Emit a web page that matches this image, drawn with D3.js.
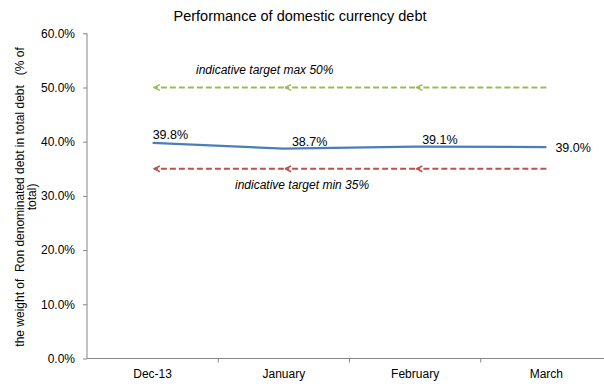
<!DOCTYPE html>
<html>
<head>
<meta charset="utf-8">
<script src="https://cdn.jsdelivr.net/npm/d3@7"></script>
<style>
  html, body { margin: 0; padding: 0; background: #fff; }
  svg { display: block; font-family: "Liberation Sans", Arial, sans-serif; }
</style>
</head>
<body>
<svg id="chart" width="604" height="384"></svg>
<script>
// Monthly share of RON-denominated debt in total debt
const categories = ["Dec-13", "January", "February", "March"];
const shareValues = [39.8, 38.7, 39.1, 39.0];
const targetMax = 50;
const targetMin = 35;
const yTicks = [0, 10, 20, 30, 40, 50, 60];

const titleText = "Performance of domestic currency debt";
const yTitleLines = ["the weight of  Ron denominated debt in total debt   (% of", "total)"];
const maxLabel = "indicative target max 50%";
const minLabel = "indicative target min 35%";

// data label nudges (dx, dy) relative to each point
const labelOffsets = [[0, -4], [8, -3], [7, -2.5], [9, 5]];

const svg = d3.select("#chart");
const plotLeft = 87, plotRight = 612, plotTop = 33.3, plotBottom = 358.5;

const x = d3.scaleBand().domain(categories).range([plotLeft, plotRight]);
const y = d3.scaleLinear().domain([0, 60]).range([plotBottom, plotTop]);
const cx = c => x(c) + x.bandwidth() / 2;

const axisColor = "#868686";

// title
svg.append("text")
  .attr("x", 300).attr("y", 21)
  .attr("text-anchor", "middle")
  .attr("font-size", 14.5)
  .attr("fill", "#000")
  .text(titleText);

// y axis
const yAxis = svg.append("g")
  .attr("transform", `translate(${plotLeft},0)`)
  .call(d3.axisLeft(y).tickValues(yTicks).tickSize(4).tickPadding(8)
    .tickFormat(d => d.toFixed(1) + "%"));
yAxis.selectAll("path, line").attr("stroke", axisColor);
yAxis.select("path").attr("d", `M0,${plotTop}V${plotBottom}`);
yAxis.selectAll("text").attr("font-size", 12).attr("fill", "#000")
  .attr("font-family", "Liberation Sans, Arial, sans-serif");

// x axis with ticks on category boundaries
const xAxisG = svg.append("g").attr("transform", `translate(0,${plotBottom})`);
xAxisG.append("line")
  .attr("x1", plotLeft).attr("x2", 604)
  .attr("stroke", axisColor).attr("stroke-width", 1);
categories.forEach((c, i) => {
  if (i > 0) {
    xAxisG.append("line")
      .attr("x1", x(c)).attr("x2", x(c))
      .attr("y1", 0).attr("y2", 4)
      .attr("stroke", axisColor);
  }
  xAxisG.append("text")
    .attr("x", cx(c)).attr("y", 19.5)
    .attr("text-anchor", "middle")
    .attr("font-size", 12).attr("fill", "#000")
    .text(c);
});

// y axis title, two centred lines
const yTitle = svg.append("text")
  .attr("transform", `translate(24,${(plotTop + plotBottom) / 2 + 1}) rotate(-90)`)
  .attr("text-anchor", "middle")
  .attr("font-size", 12).attr("fill", "#000")
  .style("white-space", "pre");
yTitleLines.forEach((t, i) => {
  yTitle.append("tspan").attr("x", 0).attr("dy", i === 0 ? 0 : 12).text(t);
});

// open arrowheads for the target lines (drawn along the line direction)
const defs = svg.append("defs");
function marker(id, color) {
  defs.append("marker")
    .attr("id", id)
    .attr("viewBox", "0 0 10 10")
    .attr("refX", 9).attr("refY", 5)
    .attr("markerWidth", 3.6).attr("markerHeight", 4.6)
    .attr("markerUnits", "strokeWidth")
    .attr("orient", "auto")
    .append("path")
    .attr("d", "M1,1 L9,5 L1,9")
    .attr("fill", "none")
    .attr("stroke", color)
    .attr("stroke-width", 2.2);
}
marker("arrowGreen", "#9bbb59");
marker("arrowRed", "#c0504d");

// dashed target levels, drawn as leftward arrows between category centres
function targetLine(value, color, markerId) {
  for (let i = categories.length - 1; i > 0; i--) {
    svg.append("line")
      .attr("x1", cx(categories[i])).attr("x2", cx(categories[i - 1]) + 1.5)
      .attr("y1", y(value)).attr("y2", y(value))
      .attr("stroke", color).attr("stroke-width", 2)
      .attr("stroke-dasharray", "6,3")
      .attr("marker-end", `url(#${markerId})`);
  }
}
targetLine(targetMax, "#9bbb59", "arrowGreen");
targetLine(targetMin, "#c0504d", "arrowRed");

svg.append("text")
  .attr("x", 196).attr("y", 74)
  .attr("font-size", 12).attr("font-style", "italic").attr("fill", "#000")
  .text(maxLabel);
svg.append("text")
  .attr("x", 235).attr("y", 188.5)
  .attr("font-size", 12).attr("font-style", "italic").attr("fill", "#000")
  .text(minLabel);

// share line
const line = d3.line()
  .x((d, i) => cx(categories[i]))
  .y(d => y(d));
svg.append("path")
  .datum(shareValues)
  .attr("d", line)
  .attr("fill", "none")
  .attr("stroke", "#4a7ebb")
  .attr("stroke-width", 2.25);

// data labels
svg.selectAll(".dl")
  .data(shareValues)
  .enter().append("text")
  .attr("class", "dl")
  .attr("x", (d, i) => cx(categories[i]) + labelOffsets[i][0])
  .attr("y", (d, i) => y(d) + labelOffsets[i][1])
  .attr("font-size", 12.5).attr("fill", "#000")
  .text(d => d.toFixed(1) + "%");
</script>
</body>
</html>
